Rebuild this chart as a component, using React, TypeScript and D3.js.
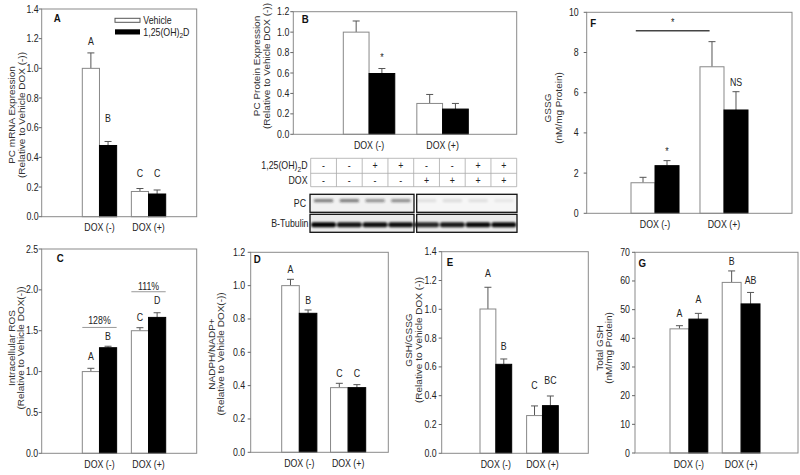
import React from "react";
import * as d3 from "d3";

// ---------- data ----------
const groups = ["DOX (-)", "DOX (+)"];
const treatments = ["Vehicle", "1,25(OH)2D"];
// order of each series: DOX(-) Vehicle, DOX(-) 1,25(OH)2D, DOX(+) Vehicle, DOX(+) 1,25(OH)2D

const pcMrnaMean = [1.0, 0.48, 0.17, 0.153];
const pcMrnaErr = [0.104, 0.027, 0.02, 0.027];
const pcMrnaLabels = ["A", "B", "C", "C"];
const pcMrnaLabelAt = [1.178, 0.664, 0.293, 0.293];

const pcProtMean = [1.0, 0.595, 0.302, 0.247];
const pcProtErr = [0.109, 0.049, 0.088, 0.055];
const pcProtLabels = ["", "*", "", ""];
const pcProtLabelAt = [0, 0.774, 0, 0];

const rosMean = [1.0, 1.292, 1.5, 1.663];
const rosErr = [0.04, 0.018, 0.037, 0.057];
const rosLabels = ["A", "B", "C", "D"];
const rosLabelAt = [1.18, 1.435, 1.66, 1.867];
const rosBracketText = ["128%", "111%"];
const rosBracketLineAt = [1.54, 1.977];
const rosBracketTextAt = [1.63, 2.04];

const nadphMean = [1.0, 0.834, 0.388, 0.388];
const nadphErr = [0.038, 0.02, 0.026, 0.018];
const nadphLabels = ["A", "B", "C", "C"];
const nadphLabelAt = [1.094, 0.908, 0.474, 0.474];

const gshRatioMean = [1.002, 0.618, 0.262, 0.331];
const gshRatioErr = [0.151, 0.037, 0.067, 0.067];
const gshRatioLabels = ["A", "B", "C", "BC"];
const gshRatioLabelAt = [1.25, 0.745, 0.468, 0.505];

const gssgMean = [1.52, 2.37, 7.29, 5.14];
const gssgErr = [0.27, 0.25, 1.25, 0.91];
const gssgLabels = ["", "*", "", "NS"];
const gssgLabelAt = [0, 3.18, 0, 6.5];
const gssgSigLineAt = 9.08;
const gssgSigStarAt = 9.62;

const totalGshMean = [43.3, 46.7, 59.5, 52.0];
const totalGshErr = [1.1, 2.0, 4.0, 4.0];
const totalGshLabels = ["A", "A", "B", "AB"];
const totalGshLabelAt = [48.5, 53.4, 66.7, 60.3];

// western blot
const laneVitD = ["-", "-", "+", "+", "-", "-", "+", "+"];
const laneDox = ["-", "-", "-", "-", "+", "+", "+", "+"];
const pcBandIntensity = [0.55, 0.55, 0.45, 0.48, 0.09, 0.1, 0.09, 0.06];
const tubulinBandIntensity = [1.0, 0.92, 0.95, 0.95, 0.85, 0.9, 0.97, 0.97];

// ---------- layout ----------
const FONT = "'Liberation Sans', Arial, sans-serif";
const TXT = "#222";
const SX = 0.88; // horizontal squeeze of the original figure's lettering

type TProps = {
  x: number;
  y: number;
  anchor?: "start" | "middle" | "end";
  size?: number;
  dy?: string;
  weight?: string;
  fill?: string;
  rotate?: boolean;
  children: React.ReactNode;
};

function T({ x, y, anchor = "middle", size = 10, dy = "0.35em", weight, fill = TXT, rotate, children }: TProps) {
  const tr = rotate
    ? `translate(${x},${y}) rotate(-90) scale(1,${SX})`
    : `translate(${x},${y}) scale(${SX},1)`;
  return (
    <text transform={tr} textAnchor={anchor} fontSize={size} dy={dy} fontWeight={weight} fill={fill}>
      {children}
    </text>
  );
}

type PanelCfg = {
  letter: string;
  letterDx: number;
  letterDy: number;
  left: number;
  right: number;
  top: number;
  bottom: number;
  yMax: number;
  step: number;
  fmt: string;
  labelGap: number;
  barRange: [number, number];
  pad: number;
  mean: number[];
  err: number[];
  labels: string[];
  labelAt: number[];
  title: string[];
  titleX: number[];
  titleY: number;
};

type Extra = (
  x: d3.ScaleBand<string>,
  y: d3.ScaleLinear<number, number>
) => React.ReactNode;

function BarPanel({ c, extra }: { c: PanelCfg; extra?: Extra }) {
  const y = d3.scaleLinear().domain([0, c.yMax]).range([c.bottom, c.top]);
  const x = d3.scaleBand<string>().domain(groups).range(c.barRange).paddingInner(c.pad);
  const xs = d3.scaleBand<string>().domain(treatments).range([0, x.bandwidth()]);
  const ticks = d3.range(0, c.yMax + 1e-9, c.step);
  const f = d3.format(c.fmt);
  return (
    <g>
      {c.mean.map((m, i) => {
        const g = groups[Math.floor(i / 2)];
        const t = treatments[i % 2];
        const x0 = (x(g) as number) + (xs(t) as number);
        const w = xs.bandwidth();
        const cx = x0 + w / 2;
        const top = y(m);
        const et = y(m + c.err[i]);
        const isVeh = i % 2 === 0;
        const lab = c.labels[i];
        return (
          <g key={i}>
            <line x1={cx} x2={cx} y1={top} y2={et} stroke="#555" strokeWidth={1} />
            <line x1={cx - 3.5} x2={cx + 3.5} y1={et} y2={et} stroke="#555" strokeWidth={1} />
            <rect
              x={x0}
              y={top}
              width={w}
              height={c.bottom - top}
              fill={isVeh ? "#fff" : "#000"}
              stroke={isVeh ? "#888" : "#000"}
              strokeWidth={1}
            />
            {lab && (
              <T x={cx} y={y(c.labelAt[i])} dy={lab === "*" ? "0.6em" : "0.35em"}>
                {lab}
              </T>
            )}
          </g>
        );
      })}
      <rect
        x={c.left}
        y={c.top}
        width={c.right - c.left}
        height={c.bottom - c.top}
        fill="none"
        stroke="#8a8a8a"
        strokeWidth={1}
      />
      {ticks.map((t) => (
        <g key={t}>
          <line x1={c.left - 3} x2={c.left} y1={y(t)} y2={y(t)} stroke="#666" />
          <T x={c.left - c.labelGap} y={y(t)} anchor="end">
            {f(t)}
          </T>
        </g>
      ))}
      {groups.map((g) => (
        <T key={g} x={(x(g) as number) + x.bandwidth() / 2} y={c.bottom + 11}>
          {g}
        </T>
      ))}
      {c.title.map((t, i) => (
        <T key={t} x={c.titleX[i]} y={c.titleY} rotate fill="#333">
          {t}
        </T>
      ))}
      <T x={c.left + c.letterDx} y={c.top + c.letterDy} anchor="start" dy="0" size={11} weight="bold" fill="#111">
        {c.letter}
      </T>
      {extra && extra(x, y)}
    </g>
  );
}

const panelA: PanelCfg = {
  letter: "A", letterDx: 12, letterDy: 12.7,
  left: 41.7, right: 196.7, top: 9, bottom: 216.7,
  yMax: 1.4, step: 0.2, fmt: ".1f", labelGap: 3,
  barRange: [82.3, 165.7], pad: 0.3,
  mean: pcMrnaMean, err: pcMrnaErr, labels: pcMrnaLabels, labelAt: pcMrnaLabelAt,
  title: ["PC mRNA Expression", "(Relative to Vehicle DOX (-))"],
  titleX: [12, 21.7], titleY: 115,
};
const panelB: PanelCfg = {
  letter: "B", letterDx: 8.4, letterDy: 11.7,
  left: 293.3, right: 516.7, top: 11.7, bottom: 134.3,
  yMax: 1.2, step: 0.2, fmt: ".1f", labelGap: 4,
  barRange: [343.3, 468.3], pad: 0.3,
  mean: pcProtMean, err: pcProtErr, labels: pcProtLabels, labelAt: pcProtLabelAt,
  title: ["PC Protein Expression", "(Relative to Vehicle DOX (-))"],
  titleX: [257, 267], titleY: 66,
};
const panelC: PanelCfg = {
  letter: "C", letterDx: 15, letterDy: 12.7,
  left: 41.7, right: 196.7, top: 249, bottom: 453.3,
  yMax: 2.5, step: 0.5, fmt: ".1f", labelGap: 3.5,
  barRange: [82.3, 165.7], pad: 0.3,
  mean: rosMean, err: rosErr, labels: rosLabels, labelAt: rosLabelAt,
  title: ["Intracellular ROS", "(Relative to Vehicle DOX(-))"],
  titleX: [11.7, 20.5], titleY: 348,
};
const panelD: PanelCfg = {
  letter: "D", letterDx: 3, letterDy: 10.4,
  left: 250.7, right: 388.3, top: 252.3, bottom: 452.3,
  yMax: 1.2, step: 0.2, fmt: ".1f", labelGap: 5.5,
  barRange: [281.7, 365.7], pad: 0.28,
  mean: nadphMean, err: nadphErr, labels: nadphLabels, labelAt: nadphLabelAt,
  title: ["NADPH/NADP+", "(Relative to Vehicle DOX(-))"],
  titleX: [211.7, 220.5], titleY: 354,
};
const panelE: PanelCfg = {
  letter: "E", letterDx: 5, letterDy: 14,
  left: 441.7, right: 588.3, top: 251.7, bottom: 453.3,
  yMax: 1.4, step: 0.2, fmt: ".1f", labelGap: 5,
  barRange: [480, 558.3], pad: 0.32,
  mean: gshRatioMean, err: gshRatioErr, labels: gshRatioLabels, labelAt: gshRatioLabelAt,
  title: ["GSH/GSSG", "(Relative to Vehicle DOX (-))"],
  titleX: [408.5, 419], titleY: 340,
};
const panelF: PanelCfg = {
  letter: "F", letterDx: 3.5, letterDy: 14.4,
  left: 586.7, right: 792, top: 12.3, bottom: 213.3,
  yMax: 10, step: 2, fmt: "d", labelGap: 8,
  barRange: [631, 748], pad: 0.304,
  mean: gssgMean, err: gssgErr, labels: gssgLabels, labelAt: gssgLabelAt,
  title: ["GSSG", "(nM/mg Protein)"],
  titleX: [548.3, 559], titleY: 108,
};
const panelG: PanelCfg = {
  letter: "G", letterDx: 3.5, letterDy: 14.4,
  left: 635, right: 798, top: 252.3, bottom: 453,
  yMax: 70, step: 10, fmt: "d", labelGap: 5,
  barRange: [670, 760], pad: 0.276,
  mean: totalGshMean, err: totalGshErr, labels: totalGshLabels, labelAt: totalGshLabelAt,
  title: ["Total GSH", "(nM/mg Protein)"],
  titleX: [600, 609], titleY: 348,
};

function VitD({ x, y, anchor }: { x: number; y: number; anchor: "start" | "end" }) {
  return (
    <text
      transform={`translate(${x},${y}) scale(${SX},1)`}
      dy="0.35em"
      textAnchor={anchor}
      fontSize={10}
      fill={TXT}
    >
      1,25(OH)
      <tspan fontSize={7.5} dy="2.5">2</tspan>
      <tspan dy="-2.5">D</tspan>
    </text>
  );
}

const legendA: Extra = () => (
  <g>
    <rect x={115} y={18.3} width={25} height={4} fill="#fff" stroke="#555" strokeWidth={1} />
    <T x={143.3} y={20.5} anchor="start">
      {treatments[0]}
    </T>
    <rect x={115} y={29.3} width={25} height={5.2} fill="#000" />
    <VitD x={143.3} y={32} anchor="start" />
  </g>
);

const bracketsC: Extra = (x, y) => (
  <g>
    {groups.map((g, i) => {
      const x0 = x(g) as number;
      return (
        <g key={g}>
          <line
            x1={x0}
            x2={x0 + x.bandwidth()}
            y1={y(rosBracketLineAt[i])}
            y2={y(rosBracketLineAt[i])}
            stroke="#999"
            strokeWidth={1}
          />
          <T x={x0 + x.bandwidth() / 2} y={y(rosBracketTextAt[i])}>
            {rosBracketText[i]}
          </T>
        </g>
      );
    })}
  </g>
);

const sigF: Extra = (x, y) => {
  const x1 = (x(groups[0]) as number) + x.bandwidth() * 0.1;
  const x2 = (x(groups[1]) as number) + x.bandwidth() * 0.2;
  return (
    <g>
      <line x1={x1} x2={x2} y1={y(gssgSigLineAt)} y2={y(gssgSigLineAt)} stroke="#444" strokeWidth={1.5} />
      <T x={(x1 + x2) / 2} y={y(gssgSigStarAt)} dy="0.6em">
        *
      </T>
    </g>
  );
};

function Blot() {
  const lanes = d3.range(laneVitD.length).map(String);
  const lx = d3.scaleBand<string>().domain(lanes).range([310.7, 516.7]);
  const rowTop = 158.3, rowMid = 173.3, rowBot = 186.7;
  const pcTop = 194.3, pcBot = 212.3, tbTop = 214.3, tbBot = 232.3;
  const leftBox: [number, number] = [310, 414];
  const rightBox: [number, number] = [416.7, 517];
  const boxes = [leftBox, rightBox];
  return (
    <g>
      <defs>
        <filter id="bandBlur" x="-20%" y="-100%" width="140%" height="300%">
          <feGaussianBlur stdDeviation="1.1" />
        </filter>
      </defs>
      {[rowTop, rowMid, rowBot].map((yy) => (
        <line key={yy} x1={310.7} x2={516.7} y1={yy} y2={yy} stroke="#aaa" strokeWidth={0.8} />
      ))}
      {lanes.concat(["end"]).map((l, i) => {
        const xx = i < lanes.length ? (lx(l) as number) : 516.7;
        return <line key={l} x1={xx} x2={xx} y1={rowTop} y2={rowBot} stroke="#aaa" strokeWidth={0.8} />;
      })}
      {lanes.map((l, i) => {
        const cx = (lx(l) as number) + lx.bandwidth() / 2;
        return (
          <g key={l}>
            <T x={cx} y={(rowTop + rowMid) / 2}>{laneVitD[i]}</T>
            <T x={cx} y={(rowMid + rowBot) / 2}>{laneDox[i]}</T>
          </g>
        );
      })}
      <VitD x={307.5} y={(rowTop + rowMid) / 2} anchor="end" />
      <T x={307.5} y={(rowMid + rowBot) / 2} anchor="end">DOX</T>
      <T x={306} y={(pcTop + pcBot) / 2} anchor="end">PC</T>
      <T x={308.5} y={(tbTop + tbBot) / 2} anchor="end">B-Tubulin</T>
      {boxes.map((b, bi) => (
        <g key={bi}>
          <rect x={b[0]} y={pcTop} width={b[1] - b[0]} height={pcBot - pcTop} fill={bi === 0 ? "#f1f1f1" : "#f6f6f6"} />
          <rect x={b[0]} y={tbTop} width={b[1] - b[0]} height={tbBot - tbTop} fill="#ececec" />
        </g>
      ))}
      <g filter="url(#bandBlur)">
        {lanes.map((l, i) => {
          const x0 = lx(l) as number;
          const w = lx.bandwidth();
          return (
            <g key={l}>
              <rect x={x0 + w * 0.12} y={199} width={w * 0.76} height={3.2} rx={1.5} fill="#222" opacity={pcBandIntensity[i]} />
              <rect x={x0 + w * 0.02} y={222.3} width={w * 0.96} height={5} rx={2} fill="#000" opacity={tubulinBandIntensity[i]} />
            </g>
          );
        })}
      </g>
      {boxes.map((b, bi) => (
        <g key={bi}>
          <rect x={b[0]} y={pcTop} width={b[1] - b[0]} height={pcBot - pcTop} fill="none" stroke="#111" strokeWidth={1.3} />
          <rect x={b[0]} y={tbTop} width={b[1] - b[0]} height={tbBot - tbTop} fill="none" stroke="#111" strokeWidth={1.3} />
        </g>
      ))}
    </g>
  );
}

export default function App() {
  return (
    <svg
      width={800}
      height={475}
      viewBox="0 0 800 475"
      style={{ position: "absolute", left: 0, top: 0, background: "#fff" }}
      fontFamily={FONT}
    >
      <rect x={0} y={0} width={800} height={475} fill="#fff" />
      <BarPanel c={panelA} extra={legendA} />
      <BarPanel c={panelB} />
      <Blot />
      <BarPanel c={panelF} extra={sigF} />
      <BarPanel c={panelC} extra={bracketsC} />
      <BarPanel c={panelD} />
      <BarPanel c={panelE} />
      <BarPanel c={panelG} />
    </svg>
  );
}
